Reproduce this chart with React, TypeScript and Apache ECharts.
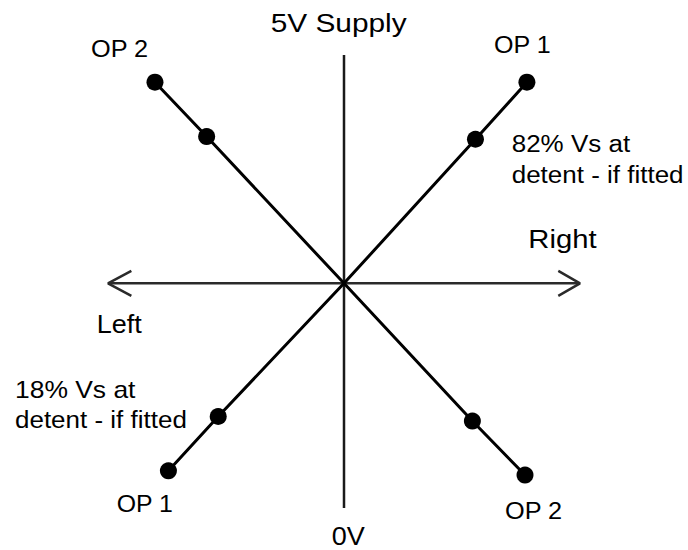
import React, { useEffect, useRef } from "react";
import * as echarts from "echarts";

// Horizontal axis: stick travel (Left -100 … Right +100); vertical axis: output voltage (0V … 5V)
const X_RANGE = [-100, 100];
const V_RANGE = [0, 5];
const CENTRE_V = 2.48;

// Output 1 (rises left → right): end, detent (18%), centre, detent (82%), end
const OP1_X = [-74.4, -53.3, 0, 55.7, 77.5];
const OP1_V = [0.41, 1.01, CENTRE_V, 4.07, 4.7];
// Output 2 (falls left → right)
const OP2_X = [-80.1, -58.2, 0, 54.4, 76.7];
const OP2_V = [4.7, 4.1, CENTRE_V, 0.96, 0.364];
// which points carry a dot (the centre crossing does not)
const DOT = [true, true, false, true, true];

// Arrow heads on the Left/Right axis (tip, arm length in x units, arm spread in volts)
const ARROW_TIP_X = [-100, 100];
const ARROW_ARM_X = [9.9, 9.2];
const ARROW_ARM_V = 0.138;

// Annotation texts
const LABELS = [
  "5V Supply",
  "OP 2",
  "OP 1",
  "82% Vs at",
  "detent - if fitted",
  "Right",
  "Left",
  "18% Vs at",
  "detent - if fitted",
  "OP 1",
  "OP 2",
  "0V",
];

// Layout of the annotation texts: [left x, baseline y, font size, horizontal stretch]
const LABEL_LAYOUT: [number, number, number, number][] = [
  [270.7, 31.7, 26.5, 1.126],
  [91, 56.7, 23, 1.1],
  [494, 53.3, 23, 1.09],
  [511.7, 151.7, 23, 1.13],
  [511.7, 183, 23, 1.13],
  [528.3, 248.3, 25, 1.17],
  [96.7, 333.3, 25, 1.08],
  [15, 398.3, 23, 1.15],
  [15, 428.3, 23, 1.13],
  [116.7, 511.7, 23, 1.08],
  [505, 519.3, 23, 1.1],
  [331.7, 545.2, 26, 1.04],
];

const FONT = '"Liberation Sans", Arial, sans-serif';

export default function App() {
  const ref = useRef<HTMLDivElement>(null);

  useEffect(() => {
    if (!ref.current) return;
    const chart = echarts.init(ref.current, undefined, { renderer: "svg" });

    const opData = (xs: number[], vs: number[]) =>
      xs.map((x, i) =>
        DOT[i] ? { value: [x, vs[i]] } : { value: [x, vs[i]], symbol: "none" }
      );

    const arrowSeries = ARROW_TIP_X.map((tip, i) => {
      const dir = tip < 0 ? 1 : -1;
      const armX = tip + dir * ARROW_ARM_X[i];
      return {
        type: "line",
        data: [
          [armX, CENTRE_V + ARROW_ARM_V],
          [tip, CENTRE_V],
          [armX, CENTRE_V - ARROW_ARM_V],
        ],
        symbol: "none",
        lineStyle: { color: "#2a2a2a", width: 2.5 },
        z: 2,
      };
    });

    chart.setOption({
      animation: false,
      backgroundColor: "#ffffff",
      grid: { left: 108, right: 108, top: 55, bottom: 42 },
      xAxis: { type: "value", min: X_RANGE[0], max: X_RANGE[1], show: false },
      yAxis: { type: "value", min: V_RANGE[0], max: V_RANGE[1], show: false },
      series: [
        {
          type: "line",
          data: [
            [0, V_RANGE[0]],
            [0, V_RANGE[1]],
          ],
          symbol: "none",
          lineStyle: { color: "#1a1a1a", width: 2.5 },
          z: 1,
        },
        {
          type: "line",
          data: [
            [X_RANGE[0], CENTRE_V],
            [X_RANGE[1], CENTRE_V],
          ],
          symbol: "none",
          lineStyle: { color: "#2a2a2a", width: 2.5 },
          z: 1,
        },
        ...arrowSeries,
        {
          type: "line",
          data: opData(OP1_X, OP1_V),
          symbol: "circle",
          symbolSize: 17,
          showSymbol: true,
          itemStyle: { color: "#000" },
          lineStyle: { color: "#000", width: 3 },
          z: 3,
        },
        {
          type: "line",
          data: opData(OP2_X, OP2_V),
          symbol: "circle",
          symbolSize: 17,
          showSymbol: true,
          itemStyle: { color: "#000" },
          lineStyle: { color: "#000", width: 3 },
          z: 3,
        },
      ],
      graphic: LABELS.map((t, i) => {
        const [x, base, fs, sx] = LABEL_LAYOUT[i];
        return {
          type: "text",
          x,
          y: base - 0.35 * fs,
          scaleX: sx,
          silent: true,
          style: {
            text: t,
            fontSize: fs,
            fontFamily: FONT,
            fill: "#000",
            textAlign: "left",
            textVerticalAlign: "middle",
          },
        };
      }),
    });

    return () => chart.dispose();
  }, []);

  return (
    <div
      ref={ref}
      style={{
        position: "fixed",
        left: 0,
        top: 0,
        width: 688,
        height: 550,
        background: "#fff",
      }}
    />
  );
}
